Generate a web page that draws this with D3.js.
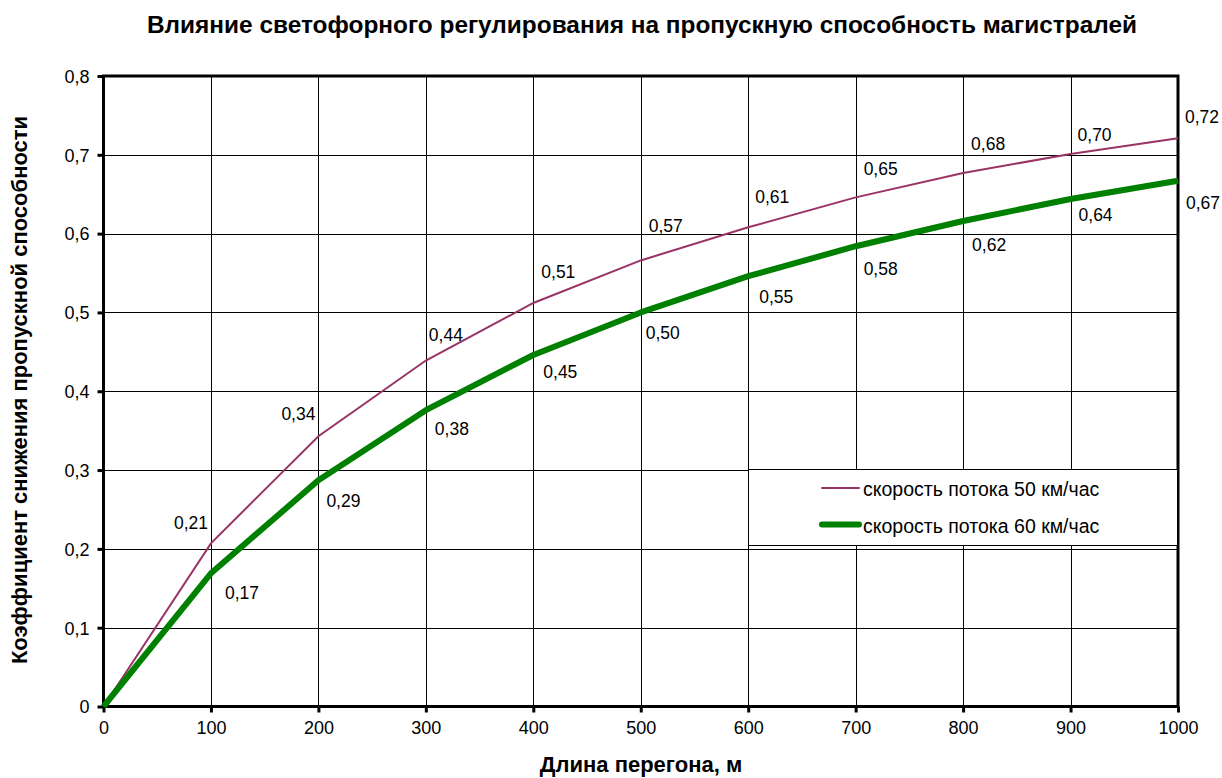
<!DOCTYPE html>
<html><head><meta charset="utf-8">
<script src="https://cdn.jsdelivr.net/npm/d3@7"></script>
<style>
body{margin:0;background:#fff;}
text{font-family:"Liberation Sans",Arial,sans-serif;fill:#000;}
</style></head>
<body><svg id="c" width="1222" height="778"></svg>
<script>
const xValues = [0,100,200,300,400,500,600,700,800,900,1000];
const series50 = [0,0.207,0.343,0.439,0.512,0.566,0.608,0.646,0.677,0.701,0.721];
const series60 = [0,0.169,0.287,0.376,0.446,0.5,0.546,0.584,0.616,0.644,0.667];
const seriesNames = ["скорость потока 50 км/час","скорость потока 60 км/час"];
const xTicks = [0,100,200,300,400,500,600,700,800,900,1000];
const yTicks = [0,0.1,0.2,0.3,0.4,0.5,0.6,0.7,0.8];
const titleText = "Влияние светофорного регулирования на пропускную способность магистралей";
const xTitle = "Длина перегона, м";
const yTitle = "Коэффициент снижения пропускной способности";

// label layout offsets (pixels)
const lab50dx = [0,-37,-37,3,8,8,7,8,8,7,7];
const lab50dy = [0,-14,-16,-20,-25,-28,-24,-22,-23,-13,-15];
const lab60dx = [0,14,8,9,10,5,11,8,9,8,8];
const lab60dy = [0,26,27,25,23,27,27,29,30,22,28];

const svg = d3.select("#c");
const m = {l:103.5,r:1178,t:76,b:706.5};
const x = d3.scaleLinear().domain([0,1000]).range([m.l,m.r]);
const y = d3.scaleLinear().domain([0,0.8]).range([m.b,m.t]);
const fmt = v => (v===0?"0":v.toFixed(2)).replace(".",",");
const fmtY = v => (v===0?"0":d3.format(".1f")(v)).replace(".",",");

svg.append("text").attr("x",147).attr("y",33)
  .attr("font-size",23).attr("font-weight","bold")
  .attr("textLength",990).attr("lengthAdjust","spacingAndGlyphs").text(titleText);

// grid
const g = svg.append("g");
g.selectAll(".vg").data(xTicks.slice(1,-1)).join("line")
  .attr("x1",d=>Math.round(x(d))+0.5).attr("x2",d=>Math.round(x(d))+0.5)
  .attr("y1",m.t).attr("y2",m.b).attr("stroke","#000").attr("stroke-width",1);
g.selectAll(".hg").data(yTicks.slice(1,-1)).join("line")
  .attr("y1",d=>Math.round(y(d))+0.5).attr("y2",d=>Math.round(y(d))+0.5)
  .attr("x1",m.l).attr("x2",m.r).attr("stroke","#000").attr("stroke-width",1);

// axes
const xAxis = svg.append("g").attr("transform",`translate(0,${m.b})`)
  .call(d3.axisBottom(x).tickValues(xTicks).tickSize(6).tickPadding(9).tickFormat(d=>d));
const yAxis = svg.append("g").attr("transform",`translate(${m.l},0)`)
  .call(d3.axisLeft(y).tickValues(yTicks).tickSize(6).tickPadding(8).tickFormat(fmtY));
[xAxis,yAxis].forEach(a=>{
  a.select(".domain").remove();
  a.selectAll(".tick line").attr("stroke","#000").attr("stroke-width",3);
  a.selectAll(".tick text").attr("font-size",18).attr("font-family","Liberation Sans, Arial, sans-serif").attr("fill","#000");
});
yAxis.selectAll(".tick text").attr("dy","0.35em");

// frame
svg.append("rect").attr("x",m.l).attr("y",m.t).attr("width",m.r-m.l).attr("height",m.b-m.t)
  .attr("fill","none").attr("stroke","#000").attr("stroke-width",3);

// lines
const line = d3.line().x((d,i)=>x(xValues[i])).y(d=>y(d));
svg.append("path").datum(series50).attr("d",line).attr("fill","none")
  .attr("stroke","#993366").attr("stroke-width",2);
svg.append("path").datum(series60).attr("d",line).attr("fill","none")
  .attr("stroke","#008000").attr("stroke-width",6).attr("stroke-linejoin","round");

// labels
svg.append("g").selectAll("text").data(series50.slice(1)).join("text")
  .attr("x",(d,i)=>x(xValues[i+1])+lab50dx[i+1]).attr("y",(d,i)=>y(d)+lab50dy[i+1])
  .attr("font-size",17.5).text(d=>fmt(d));
svg.append("g").selectAll("text").data(series60.slice(1)).join("text")
  .attr("x",(d,i)=>x(xValues[i+1])+lab60dx[i+1]).attr("y",(d,i)=>y(d)+lab60dy[i+1])
  .attr("font-size",17.5).text(d=>fmt(d));

// legend
const lg = svg.append("g");
lg.append("rect").attr("x",748.5).attr("y",469.5).attr("width",429).attr("height",76)
  .attr("fill","#fff").attr("stroke","#000").attr("stroke-width",1);
const legStyles = [{c:"#993366",w:2},{c:"#008000",w:6}];
seriesNames.forEach((n,i)=>{
  const yy = 488 + i*36.5;
  lg.append("line").attr("x1",822).attr("x2",859).attr("y1",yy).attr("y2",yy)
    .attr("stroke",legStyles[i].c).attr("stroke-width",legStyles[i].w).attr("stroke-linecap","round");
  lg.append("text").attr("x",863).attr("y",yy+8).attr("font-size",19.5).text(n);
});

svg.append("text").attr("x",641).attr("y",772).attr("text-anchor","middle")
  .attr("font-size",22).attr("font-weight","bold").text(xTitle);
svg.append("text").attr("transform","translate(27,390) rotate(-90)").attr("text-anchor","middle")
  .attr("font-size",22).attr("font-weight","bold").text(yTitle);
</script></body></html>
